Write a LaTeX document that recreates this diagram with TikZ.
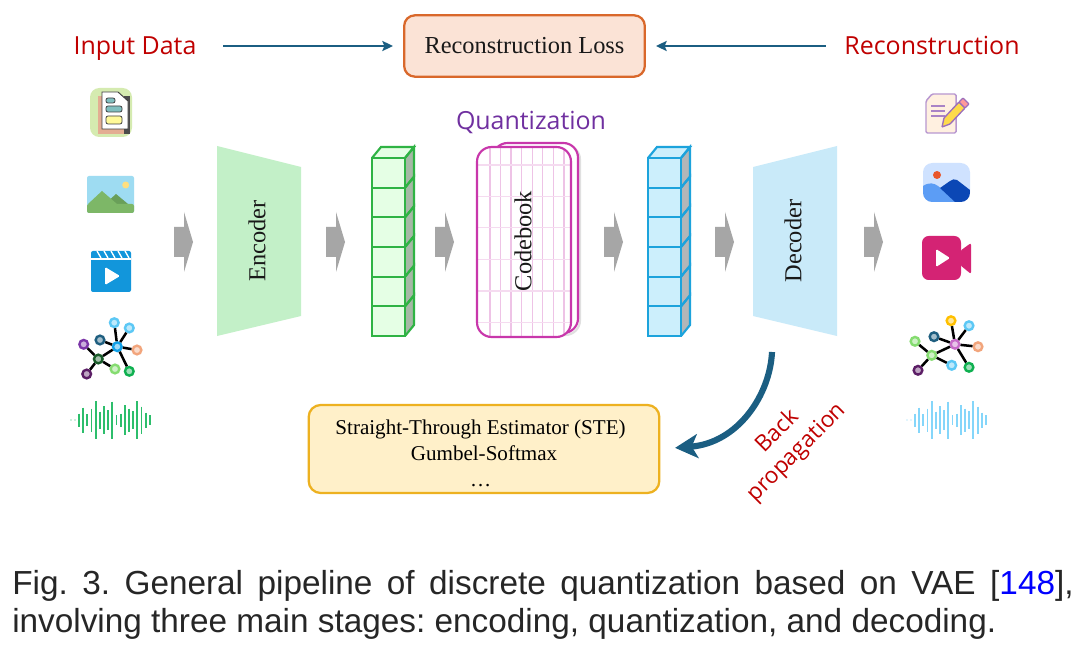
\documentclass[tikz,border=0pt]{standalone}
\usepackage{fontspec}
\setmainfont{Liberation Serif}
\newfontfamily\capfont{Liberation Sans}
\newfontfamily\handfont{Open Sans}
\usetikzlibrary{arrows,arrows.meta}

\definecolor{teal1}{HTML}{1B5E82}
\definecolor{red1}{HTML}{C00000}
\definecolor{purple1}{HTML}{7030A0}
\definecolor{pink1}{HTML}{C837AB}
\definecolor{green1}{HTML}{2FB344}
\definecolor{blue1}{HTML}{1CA3DC}
\definecolor{wave1}{HTML}{2DBE6C}
\definecolor{wave2}{HTML}{85D6FA}
\definecolor{lossline}{HTML}{D9682B}
\definecolor{lossfill}{HTML}{FBE3D6}
\definecolor{stenline}{HTML}{EDB120}
\definecolor{stefill}{HTML}{FFF0C9}
\definecolor{encfill}{HTML}{C3F0C8}
\definecolor{decfill}{HTML}{C9EAF9}
\definecolor{docbg}{HTML}{D5EBB0}
\definecolor{docback}{HTML}{E3AE93}
\definecolor{sky}{HTML}{9EDCF2}
\definecolor{sun}{HTML}{FFDF80}
\definecolor{hill1}{HTML}{7DB767}
\definecolor{hill2}{HTML}{699F59}
\definecolor{clip1}{HTML}{1296DB}
\definecolor{picbg}{HTML}{CFE2FF}
\definecolor{picsun}{HTML}{E8552A}
\definecolor{pichill1}{HTML}{5C9DF5}
\definecolor{pichill2}{HTML}{0B47B5}
\definecolor{cam}{HTML}{D42374}
\definecolor{gcyan}{HTML}{5CC8F5}
\definecolor{ghub}{HTML}{0FA0E8}
\definecolor{gorange}{HTML}{F2A57C}
\definecolor{ggreen}{HTML}{0FB050}
\definecolor{gteal}{HTML}{1F5F80}
\definecolor{gdark}{HTML}{1A5C2A}
\definecolor{gviolet}{HTML}{7B35A8}
\definecolor{gplum}{HTML}{5C1E66}
\definecolor{glime}{HTML}{85DC70}
\definecolor{gpink}{HTML}{C66AC8}
\definecolor{gyellow}{HTML}{FFC000}

\newcommand{\drawwave}[2]{%
  \fill[#2] (#1-8,420) circle (.7) (#1-4,420) circle (.7);
  \foreach \h [count=\i from 0] in {13,25,12,23,38,17,28,20,37,10,13,30,23,18,38,27,15,10}
    \draw[#2,line width=1.4pt] ({#1+4.17*\i},{420-\h/2}) -- ({#1+4.17*\i},{420+\h/2});
}

\begin{document}
\frenchspacing
\begin{tikzpicture}
  [x=.75pt,y=-.75pt,
   hand/.style={font=\handfont\fontsize{18.7pt}{20pt}\selectfont},
   headline/.style={hand,text height=13.3pt,text depth=0pt},
   body/.style={font=\fontsize{18.3pt}{20pt}\selectfont,text=black!90},
   flow/.style={teal1,line width=1.8pt,-{Stealth[length=8pt,width=7.5pt,inset=1.5pt]}},
   grayarrow/.style={fill=black!35},
   gnode/.style={circle,draw=#1,fill=#1!40!white,line width=1.8pt,inner sep=0pt,minimum size=6.5pt},
   gedge/.style={black,line width=1.9pt},
   cell/.style={line width=1.6pt}]
  \useasboundingbox (0,0) rectangle (1080,648);
  \fill[white] (0,0) rectangle (1080,648);

  % top row
  \node[rounded corners=8pt,draw=lossline,fill=lossfill,line width=1.7pt,
        minimum width=180.5pt,minimum height=46pt,body] (loss) at (524.5,46) {Reconstruction Loss};
  \node[headline,text=red1] (input) at (135,46) {Input Data};
  \node[headline,text=red1] (recon) at (932,46) {Reconstruction};
  \draw[flow,shorten <=16.5pt,shorten >=7.5pt] (input) -- (loss);
  \draw[flow,shorten <=10.5pt,shorten >=7.5pt] (recon) -- (loss);

  % encoder and decoder
  \fill[encfill] (217,146) -- (301,167) -- (301,316) -- (217,336) -- cycle;
  \fill[decfill] (753,167) -- (837,146) -- (837,336) -- (753,316) -- cycle;
  \node[body,rotate=90] (enc) at (257,241) {Encoder};
  \node[body,rotate=90] (dec) at (793,241) {Decoder};

  % gray arrows between the stages
  \foreach \x in {174,326,435,604,715,864}
    \fill[grayarrow,shift={(\x,0)}] (0,227) -- (10,227) -- (10,212) -- (19,242) -- (10,272) -- (10,257) -- (0,257) -- cycle;

  % latent stacks
  \foreach \x/\col/\fillc/\sidec in {372/green1/green!10!white/green!20!black!35!white,648/blue1/cyan!20!white/cyan!10!black!35!white}{
    \fill[\fillc] (\x,158) -- (\x+9,147) -- (\x+42,147) -- (\x+33,158) -- cycle;
    \fill[\sidec] (\x+33,158) -- (\x+42,147) -- (\x+42,325) -- (\x+33,336) -- cycle;
    \fill[\fillc] (\x,158) rectangle (\x+33,336);
    \draw[cell,\col] (\x,158) -- (\x+9,147) -- (\x+42,147) -- (\x+33,158);
    \foreach \j in {0,...,5}{
      \draw[cell,\col] (\x,158+29.67*\j) rectangle (\x+33,158+29.67*\j+29.67);
      \draw[cell,\col] (\x+33,158+29.67*\j) -- (\x+42,147+29.67*\j) -- (\x+42,147+29.67*\j+29.67) -- (\x+33,158+29.67*\j+29.67);
    }
  }

  % codebook
  \draw[black!12,line width=1.6pt,rounded corners=11pt] (495,145) rectangle (580,335);
  \draw[pink1,fill=white,line width=1.6pt,rounded corners=11pt] (493,143) rectangle (578,333);
  \fill[white,rounded corners=11pt] (477,147) rectangle (571,337);
  \begin{scope}
    \clip[rounded corners=11pt] (477,147) rectangle (571,337);
    \foreach \x in {490,500.7,511,521.7,532.3,542.7,553.7,564}
      \draw[pink1!30!white,line width=.8pt] (\x,147) -- (\x,337);
    \foreach \y in {165,196.7,227.7,259.3,291,322.7}
      \draw[pink1!18!white,line width=.8pt] (477,\y) -- (571,\y);
  \end{scope}
  \draw[pink1,line width=1.6pt,rounded corners=11pt] (477,147) rectangle (571,337);
  \node[body,rotate=90] (code) at (523,241) {Codebook};
  \node[headline,text=purple1] (quant) at (531,121) {Quantization};

  % back propagation
  \node[rounded corners=9pt,draw=stenline,fill=stefill,line width=1.7pt,
        minimum width=263pt,minimum height=66pt,inner sep=0pt,align=center,
        font=\fontsize{15.8pt}{19.5pt}\selectfont] (ste) at (484,449)
        {\rule{0pt}{17pt}Straight-Through Estimator (STE)\hspace*{5.2pt}\\Gumbel-Softmax\hspace*{5.2pt}\\\dots\hspace*{5.2pt}};
  \coordinate (backstart) at (772,352);
  \draw[teal1,line width=4.6pt,-{Stealth[length=17pt,width=18pt,inset=4.5pt]},shorten >=11pt]
    (backstart) .. controls (770,395) and (738,443) .. (ste.east);
  \node[hand,text=red1,rotate=45,font=\handfont\fontsize{17pt}{20pt}\selectfont] (back) at (776,430) {Back};
  \node[hand,text=red1,rotate=45,font=\handfont\fontsize{17pt}{20pt}\selectfont] (prop) at (797,453) {propagation};

  % left icons
  \fill[docbg,rounded corners=7pt] (90,88) rectangle (132,137);
  \fill[black!70] (106,96) rectangle (130,134);
  \fill[docback] (98,96) rectangle (124,134);
  \draw[black!75,fill=white,line width=.7pt] (102,92) -- (118,92) -- (128,101) -- (128,129) -- (102,129) -- cycle;
  \draw[black!75,fill=teal!50!white,line width=.6pt,rounded corners=1.5pt] (106,98) rectangle (115,103);
  \draw[black!75,fill=teal!50!white,line width=.6pt,rounded corners=1.5pt] (106,106) rectangle (122,112);
  \draw[black!75,fill=yellow!40!white,line width=.6pt,rounded corners=1.5pt] (106,116) rectangle (122,124);

  \fill[sky,rounded corners=1.5pt] (87,176) rectangle (134,213);
  \fill[sun] (125.7,185) circle (3.5);
  \fill[hill2] (105,204) -- (116,194) -- (128,204) -- cycle;
  \fill[hill1] (88,204) -- (102,191) -- (117,204) -- cycle;
  \fill[hill1,rounded corners=1.5pt] (87,204) rectangle (134,213);

  \fill[clip1,rounded corners=1.5pt] (91,251) rectangle (131,292);
  \draw[white,line width=.8pt] (91,259) -- (131,259);
  \foreach \x in {97,104,111,118,125}
    \draw[white,line width=1pt] (\x,251) -- (\x+4,258);
  \fill[white,rounded corners=1pt] (105,267) -- (120,276) -- (105,285) -- cycle;

  % left graph
  \foreach \name/\x/\y/\col in {la/117.3/346.7/ghub,lb/114.3/322.7/gcyan,lc/129.3/328/gcyan,ld/137/350/gorange,
      le/129.3/371.3/ggreen,lf/100/340/gteal,lg/98.3/359/gdark,lh/83.7/344.3/gviolet,li/86.7/374/gplum,lj/115/369/glime}
    \node[gnode=\col] (\name) at (\x,\y) {};
  \foreach \from/\to in {la/lb,la/lc,la/ld,la/le,la/lf,la/lg,lg/lh,lg/li,lg/lj}
    \draw[gedge] (\from) -- (\to);
  \drawwave{79}{wave1}

  % right icons
  \draw[purple1!50!white,fill=orange!12!white,line width=1.1pt,rounded corners=1pt] (932,94) -- (956,94) -- (956,133) -- (926,133) -- (926,101) -- cycle;
  \foreach \y in {106,111,116}
    \draw[purple1!60!white,line width=.8pt] (931,\y) -- (945,\y);
  \draw[purple1!70!white,fill=yellow!65!orange!70!white,line width=1pt,rounded corners=.5pt] (942,127) -- (944,118) -- (959,102) -- (965,108) -- (950,124) -- cycle;
  \draw[purple1!70!white,fill=red!40!white,line width=1pt,rounded corners=.5pt] (959,102) -- (963,98) -- (969,104) -- (965,108) -- cycle;

  \fill[picbg,rounded corners=7pt] (923,163) rectangle (970,202);
  \fill[picsun] (937,175) circle (4);
  \begin{scope}
    \clip[rounded corners=7pt] (923,163) rectangle (970,202);
    \fill[pichill1] (923,186) .. controls (929,182) and (934,183) .. (938,186) -- (958,202) -- (923,202) -- cycle;
    \fill[pichill2] (940,188) -- (950,181) .. controls (952,179) and (955,179) .. (957,180) -- (970,190) -- (970,202) -- (955,202) -- cycle;
  \end{scope}

  \fill[cam,rounded corners=5pt] (922,236) rectangle (961,280);
  \fill[cam,rounded corners=1.5pt] (960,251) -- (971,243) -- (971,274) -- (960,265) -- cycle;
  \fill[white,rounded corners=1pt] (936,249) -- (950,258) -- (936,267) -- cycle;

  % right graph
  \foreach \name/\x/\y/\col in {ra/955/344.3/gpink,rb/951/320.7/gyellow,rc/969/325.7/gcyan,rd/978/346.7/gorange,
      re/969/367.3/ggreen,rf/934/336.7/gteal,rg/931.7/355.3/glime,rh/915/341.3/glime,ri/918/370.3/gplum,rj/951.7/365.3/gcyan}
    \node[gnode=\col] (\name) at (\x,\y) {};
  \foreach \from/\to in {ra/rb,ra/rc,ra/rd,ra/re,ra/rf,ra/rg,rg/rh,rg/ri,rg/rj}
    \draw[gedge] (\from) -- (\to);
  \drawwave{915}{wave2}

  % caption
  \node[anchor=north west,inner sep=0pt,align=left,
        font=\capfont\fontsize{25pt}{28.5pt}\selectfont,text=black!85] (cap) at (12,570)
    {\makebox[796pt][s]{Fig. 3. General pipeline of discrete quantization based on VAE [\textcolor{blue}{148}],}\\involving three main stages: encoding, quantization, and decoding.};
\end{tikzpicture}
\end{document}
